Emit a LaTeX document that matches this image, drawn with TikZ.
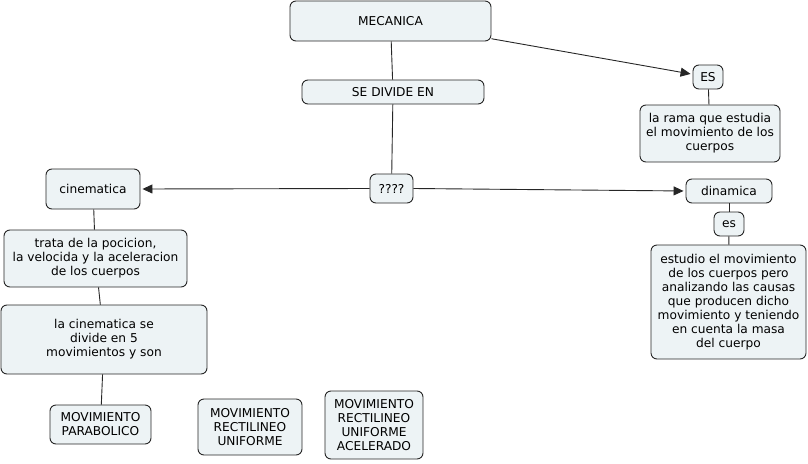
\documentclass[tikz,border=0pt]{standalone}
\usepackage{fontspec}
\setmainfont{DejaVu Sans}
\usetikzlibrary{arrows.meta}
\definecolor{boxfill}{HTML}{EDF3F5}
\begin{document}
\begin{tikzpicture}[x=1pt,y=-1pt,
  box/.style={draw=black!85, fill=boxfill, rounded corners=6pt, align=center, inner sep=0pt,
    font=\fontsize{12.2}{14}\selectfont, line width=0.9pt},
  link/.style={draw=black!85, line width=0.9pt},
  arr/.style={link, -{Triangle[length=10pt,width=9pt]}, shorten >=2pt}]
\useasboundingbox (0,0) rectangle (808,463);
\node[box, minimum width=201pt, minimum height=40pt] (mec) at (390.5,21) {MECANICA};
\node[box, minimum width=182pt, minimum height=24pt] (sde) at (393,92) {SE DIVIDE EN};
\node[box, minimum width=43pt, minimum height=29pt] (q) at (391.5,188.5) {????};
\node[box, minimum width=30pt, minimum height=24pt] (es) at (708,77) {ES};
\node[box, minimum width=140pt, minimum height=57pt] (rama) at (710,133.5) {la rama que estudia\\el movimiento de los\\cuerpos};
\node[box, minimum width=86pt, minimum height=24pt] (din) at (729,191) {dinamica};
\node[box, minimum width=30pt, minimum height=24pt] (es2) at (729,224) {es};
\node[box, minimum width=155pt, minimum height=114pt] (est) at (728.5,302) {estudio el movimiento\\de los cuerpos pero\\analizando las causas\\que producen dicho\\movimiento y teniendo\\en cuenta la masa\\del cuerpo};
\node[box, minimum width=94pt, minimum height=40pt] (cin) at (93,189) {cinematica};
\node[box, minimum width=183pt, minimum height=57pt] (tra) at (95.5,258.5) {trata de la pocicion,\\la velocida y la aceleracion\\de los cuerpos};
\node[box, minimum width=206pt, minimum height=69pt] (lcs) at (104,339.5) {la cinematica se\\divide en 5\\movimientos y son};
\node[box, minimum width=101pt, minimum height=39pt] (par) at (100.5,424.5) {MOVIMIENTO\\PARABOLICO};
\node[box, minimum width=104pt, minimum height=56pt] (mru) at (250,427) {MOVIMIENTO\\RECTILINEO\\UNIFORME};
\node[box, minimum width=98pt, minimum height=68pt] (mrua) at (374,425) {MOVIMIENTO\\RECTILINEO\\UNIFORME\\ACELERADO};
\draw[link] (mec) -- (sde);
\draw[link] (sde) -- (q);
\draw[arr] (mec) -- (es);
\draw[link] (es) -- (rama);
\draw[arr] (q.west) -- (cin.east);
\draw[arr] (q.east) -- (din.west);
\draw[link] (din) -- (es2);
\draw[link] (es2) -- (est);
\draw[link] (cin) -- (tra);
\draw[link] (tra) -- (lcs);
\draw[link] (lcs) -- (par);
\end{tikzpicture}
\end{document}
